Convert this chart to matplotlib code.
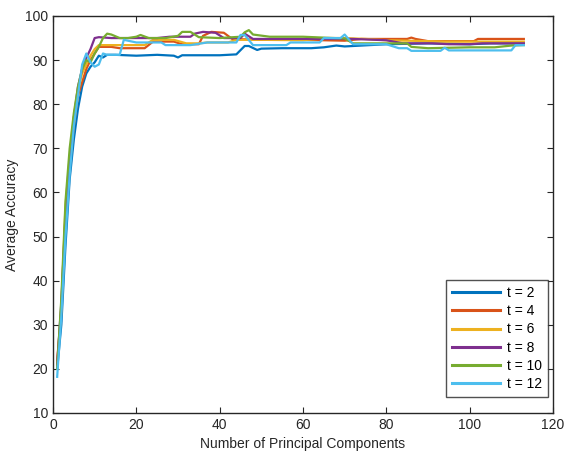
import numpy as np
import matplotlib.pyplot as plt

plt.rcParams['font.family'] = ['Liberation Sans', 'DejaVu Sans']

labels = ['t = 2', 't = 4', 't = 6', 't = 8', 't = 10', 't = 12']
colors = ['#0072BD', '#D95319', '#EDB120', '#7E2F8E', '#77AC30', '#4DBEEE']

# number of principal components / average accuracy
x_t2 = [1, 2, 3, 4, 5, 6, 7, 8, 9, 10, 11, 12, 13, 15, 20, 25, 29, 30, 31, 33, 40, 44,
        46, 47, 49, 50, 55, 62, 65, 68, 70, 76, 80, 90, 100, 105, 113]
y_t2 = [20, 30, 48, 63, 72, 79, 84, 87, 88.5, 89.5, 91, 90.6, 91.2, 91.2, 91, 91.2,
        91, 90.6, 91.1, 91.1, 91.1, 91.3, 93.2, 93.2, 92.3, 92.6, 92.7, 92.7, 92.9,
        93.3, 93.1, 93.4, 93.6, 93.8, 93.6, 93.8, 93.8]

x_t4 = [1, 2, 3, 4, 5, 6, 7, 8, 9, 10, 11, 14, 16, 22, 24, 29, 31, 35, 36, 38, 41, 43,
        50, 60, 70, 74, 85, 86, 87, 90, 101, 102, 113]
y_t4 = [22, 33, 54, 66, 75, 82, 85, 88, 90, 91.5, 93, 93, 92.7, 92.7, 94.2, 94.2, 93.6,
        93.6, 95.5, 96.4, 96.2, 94.8, 94.6, 94.6, 94.4, 94.8, 94.8, 95.1, 94.8, 94.3,
        94.3, 94.8, 94.8]

x_t6 = [1, 2, 3, 4, 5, 6, 7, 8, 9, 10, 11, 13, 16, 22, 24, 29, 32, 35, 37, 42, 44, 50,
        60, 66, 70, 75, 80, 90, 94, 113]
y_t6 = [21, 34, 57, 68, 77, 83, 87, 89, 91, 92.5, 93.4, 93.4, 93.4, 93.4, 94.6, 94.6,
        93.8, 93.8, 94, 94, 94.6, 94.6, 94.5, 95, 95, 94.8, 94.5, 94.3, 94.2, 94.2]

x_t8 = [1, 2, 3, 4, 5, 6, 7, 8, 9, 10, 11, 14, 18, 20, 25, 28, 33, 34, 36, 39, 41, 45,
        46, 48, 52, 60, 66, 72, 80, 84, 91, 95, 100, 103, 113]
y_t8 = [21, 35, 55, 67, 77, 84, 88, 90.5, 92.5, 95, 95.2, 95, 95, 95, 95, 95.3, 95.3,
        96, 96.4, 96.2, 95, 95, 96, 94.8, 94.8, 94.8, 94.8, 94.8, 94.5, 93.8, 93.8,
        93.6, 93.6, 93.8, 93.8]

x_t10 = [1, 2, 3, 4, 5, 6, 7, 8, 9, 10, 11, 12, 13, 14, 16, 18, 20, 21, 23, 27, 30, 31,
         33, 35, 40, 45, 46, 47, 48, 52, 60, 65, 70, 72, 80, 83, 85, 86, 90, 100, 106,
         110, 113]
y_t10 = [20, 36, 58, 70, 78, 84, 88, 90, 89.5, 91.5, 93, 95, 96, 95.8, 95, 95, 95.3,
         95.7, 95, 95, 95.5, 96.4, 96.4, 95.2, 95, 95.3, 96.3, 96.8, 95.8, 95.3, 95.3,
         95.1, 94.9, 93.8, 93.8, 93.8, 93.8, 93, 92.7, 92.9, 92.9, 93.3, 93.4]

x_t12 = [1, 2, 3, 4, 5, 6, 7, 8, 9, 10, 11, 12, 13, 16, 17, 20, 26, 27, 33, 37, 44, 45,
         46, 48, 56, 57, 64, 65, 69, 70, 72, 80, 83, 85, 86, 93, 94, 95, 110, 111, 113]
y_t12 = [18.2, 32, 50, 64, 75, 82, 89, 91.5, 89.5, 88.5, 89, 91.5, 91.2, 91.2, 94.6,
         94, 94, 93.4, 93.4, 94, 94, 95.7, 95.7, 93.4, 93.4, 94, 94, 95, 95, 95.8, 93.6,
         93.6, 92.7, 92.7, 92.1, 92.1, 92.8, 92.2, 92.2, 93.4, 93.4]

xs = [x_t2, x_t4, x_t6, x_t8, x_t10, x_t12]
ys = [y_t2, y_t4, y_t6, y_t8, y_t10, y_t12]

fig = plt.figure(figsize=(5.7, 4.62), dpi=100)
ax = fig.add_axes([53/570, 49/462, 500/570, 397/462])

for x, y, c, lab in zip(xs, ys, colors, labels):
    ax.plot(x, y, color=c, lw=1.6, label=lab)

ax.set_xlim(0, 120)
ax.set_ylim(10, 100)
ax.set_xticks(np.arange(0, 121, 20))
ax.set_yticks(np.arange(10, 101, 10))
ax.tick_params(direction='in', top=True, right=True, length=4, width=0.8,
               labelsize=10, colors='#262626')
for s in ax.spines.values():
    s.set_color('#262626')
    s.set_linewidth(1.0)

ax.set_xlabel('Number of Principal Components', fontsize=10, color='#262626')
ax.set_ylabel('Average Accuracy', fontsize=10, color='#262626')

leg = ax.legend(loc='lower right', bbox_to_anchor=(0.99, 0.04), borderaxespad=0,
                fontsize=10, frameon=True, fancybox=False, handlelength=3.4,
                labelspacing=0.3, handletextpad=0.5, borderpad=0.45)
leg.get_frame().set_edgecolor('#262626')
leg.get_frame().set_linewidth(1.0)
for line in leg.get_lines():
    line.set_linewidth(2.2)

fig.savefig('out.png', dpi=100)
